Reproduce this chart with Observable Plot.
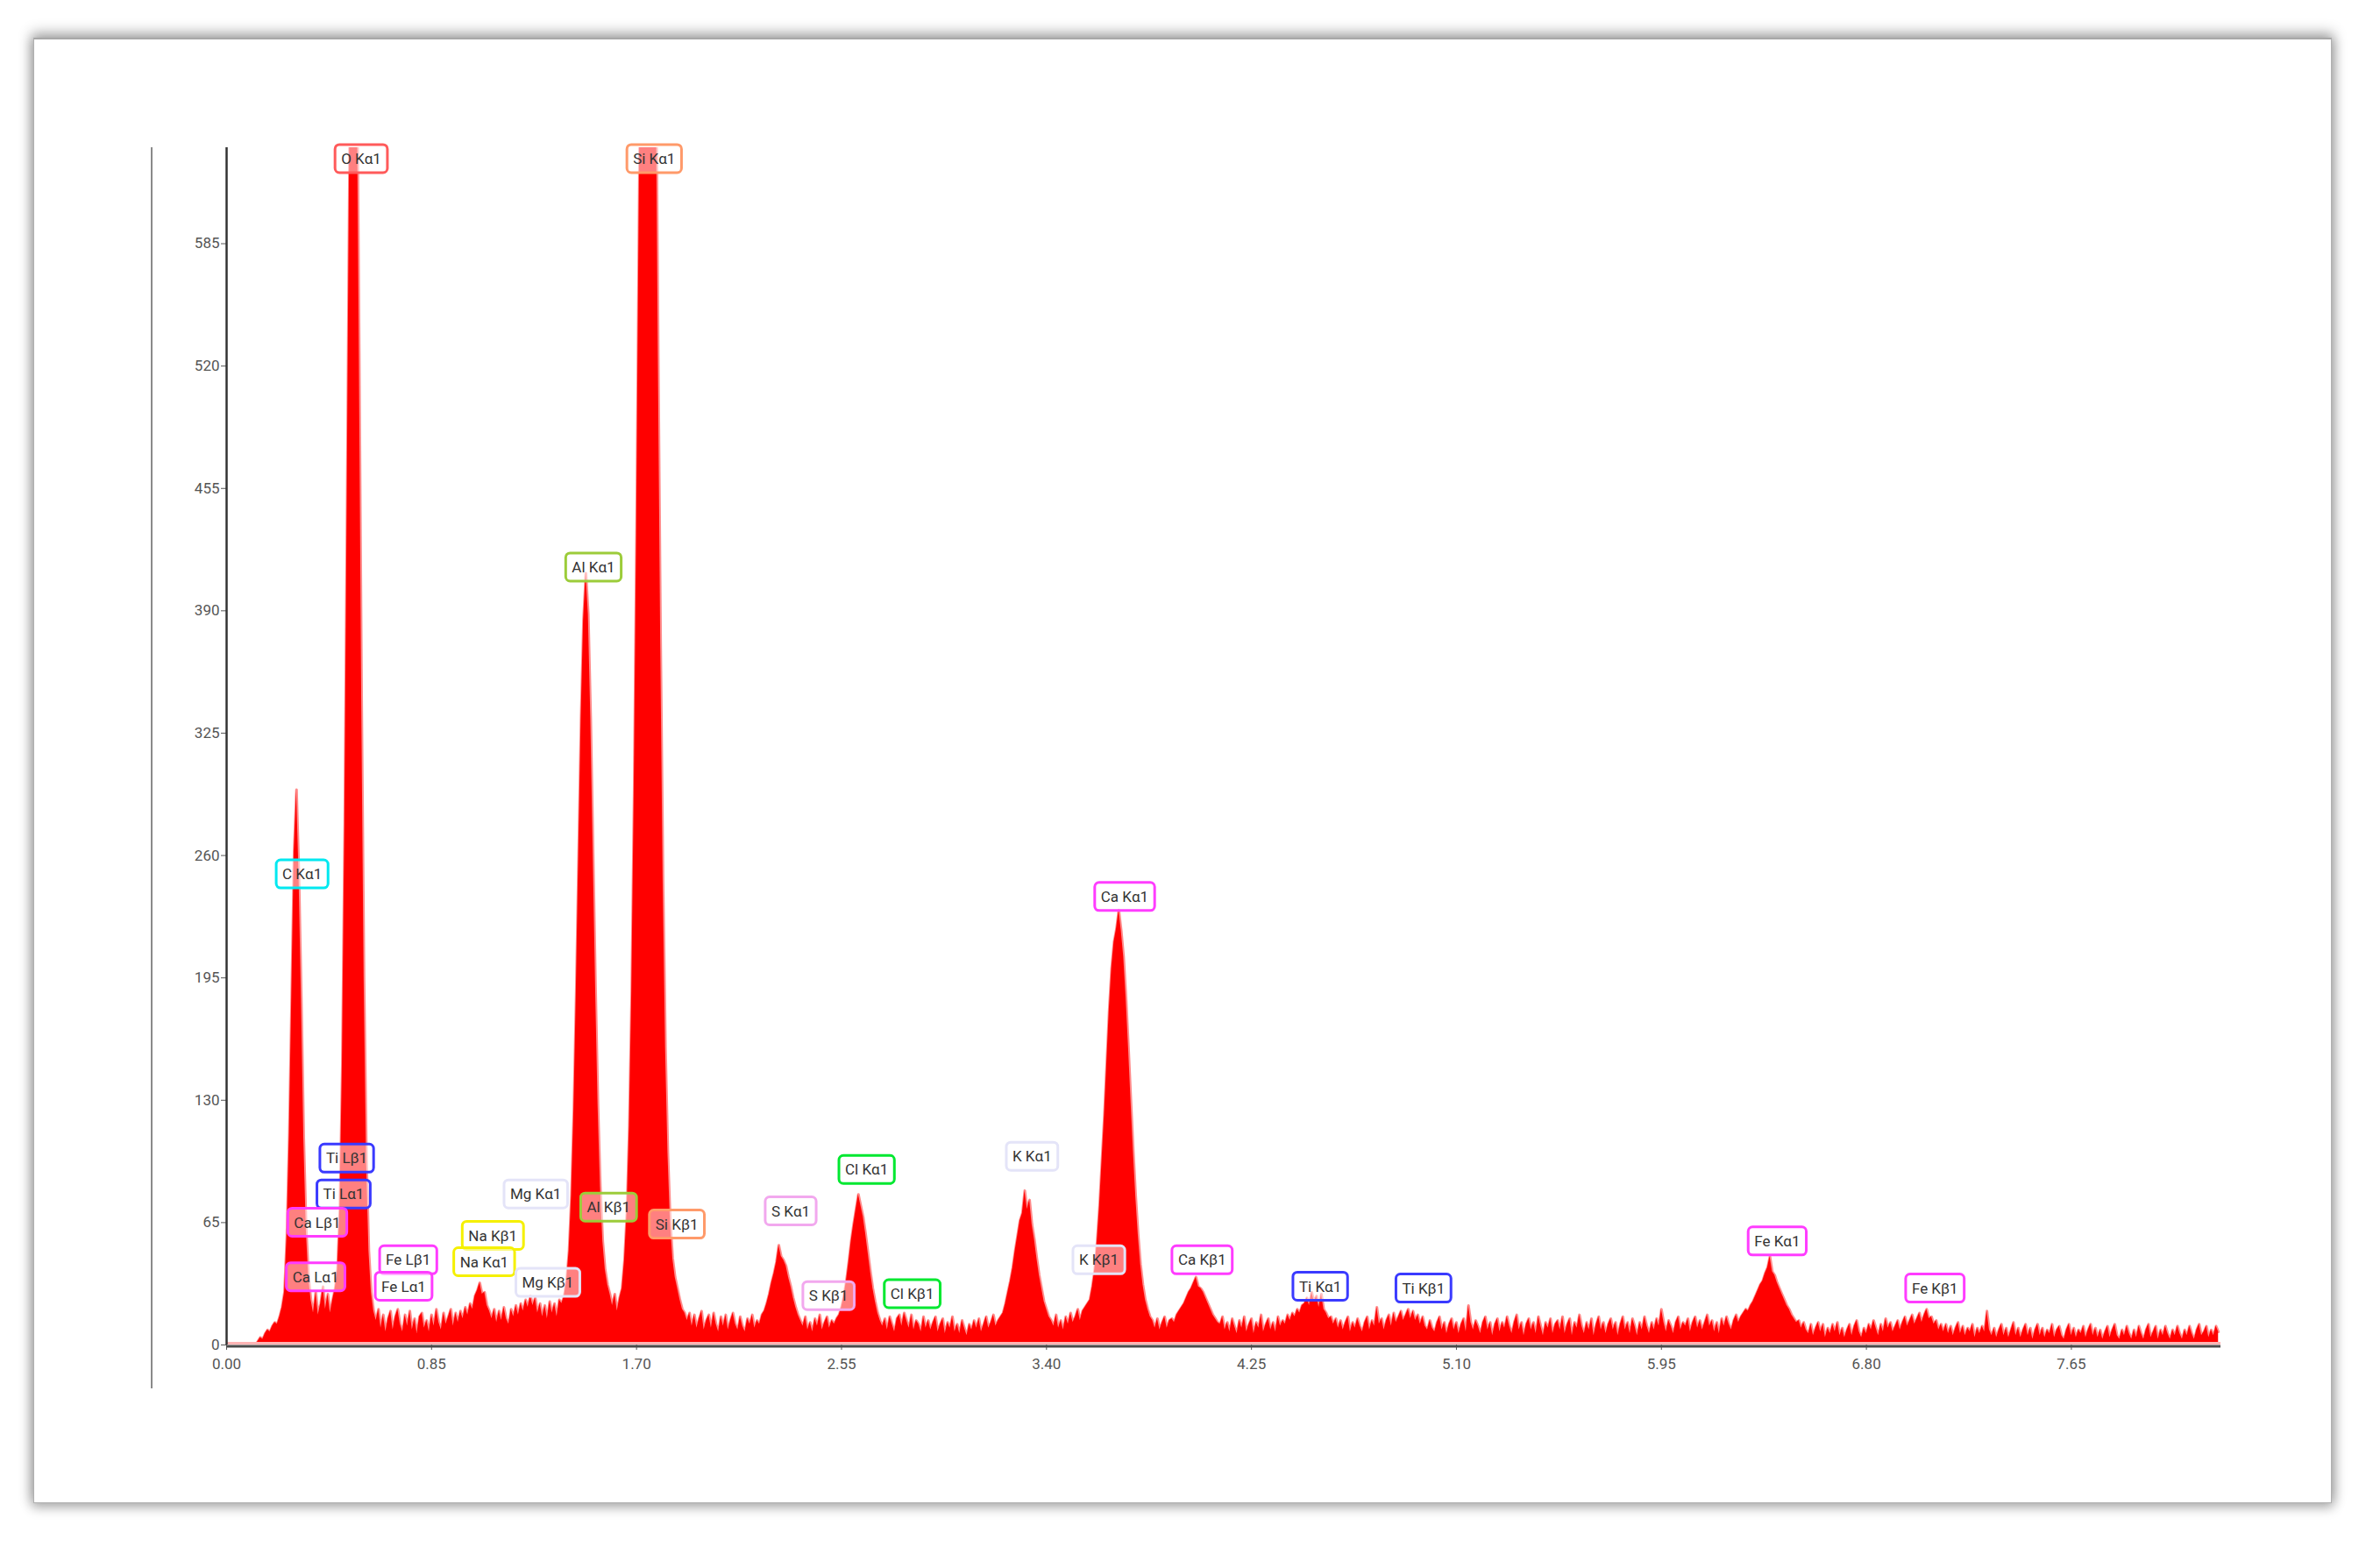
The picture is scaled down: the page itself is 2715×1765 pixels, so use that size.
<!DOCTYPE html>
<html><head><meta charset="utf-8">
<script src="https://cdn.jsdelivr.net/npm/d3@7"></script>
<script src="https://cdn.jsdelivr.net/npm/@observablehq/plot@0.6"></script>
<style>
html,body{margin:0;padding:0;background:#fff;}
body{width:2715px;height:1765px;position:relative;overflow:hidden;font-family:Roboto,"Noto Sans",sans-serif;}
#frame{position:absolute;left:38px;top:43px;width:2620px;height:1669px;border:1px solid #b0b0b0;border-top:2px solid #a8a8a8;box-shadow:0 -4px 14px 2px rgba(0,0,0,0.30),0 4px 12px 2px rgba(0,0,0,0.22);background:#fff;}
#leftline{position:absolute;left:172px;top:168px;width:2px;height:1416px;background:#8a8a8a;}
#chart{position:absolute;left:0;top:0;}
</style></head><body>
<div id="frame"></div>
<div id="leftline"></div>
<div id="chart"></div>
<script>
// Spectrum: counts per 0.01 keV channel, starting at 0.12 keV
const energyStart = 0.12;
const energyStep = 0.01;
const counts = [
  0, 2, 4, 3, 6, 8, 7, 10, 12, 11, 15, 20, 28, 58, 112, 186, 262, 295, 250, 184,
  110, 62, 36, 24, 17, 28, 16, 22, 31, 19, 27, 17, 24, 30, 40, 74, 150, 278, 452, 636,
  768, 792, 698, 528, 343, 195, 99, 50, 28, 18, 13, 19, 9, 16, 7, 14, 18, 8, 15, 19,
  11, 7, 16, 10, 18, 8, 14, 6, 15, 17, 9, 13, 7, 16, 10, 19, 12, 8, 17, 11,
  15, 19, 10, 17, 12, 18, 14, 20, 16, 22, 19, 26, 29, 33, 27, 28, 21, 18, 14, 19,
  12, 18, 13, 20, 14, 11, 19, 15, 21, 16, 22, 18, 24, 20, 26, 21, 25, 17, 22, 15,
  21, 14, 23, 17, 22, 15, 24, 22, 26, 34, 50, 79, 125, 188, 261, 333, 385, 410, 388, 333,
  261, 190, 128, 84, 55, 40, 32, 27, 21, 27, 18, 25, 30, 45, 70, 116, 188, 293, 431, 593,
  759, 902, 996, 1018, 966, 850, 694, 526, 372, 247, 158, 102, 66, 46, 36, 30, 24, 19, 17, 13,
  17, 10, 16, 9, 14, 18, 8, 13, 16, 9, 17, 11, 7, 15, 10, 16, 8, 13, 17, 11,
  8, 15, 10, 7, 14, 11, 16, 9, 13, 11, 16, 18, 22, 27, 33, 38, 44, 53, 47, 45,
  42, 36, 31, 25, 20, 16, 13, 10, 15, 8, 12, 7, 14, 10, 16, 8, 12, 15, 9, 13,
  11, 14, 16, 20, 26, 34, 44, 55, 64, 72, 80, 74, 68, 59, 49, 39, 30, 23, 17, 13,
  10, 14, 8, 15, 11, 7, 14, 16, 10, 17, 13, 9, 16, 8, 13, 11, 7, 15, 9, 13,
  8, 12, 15, 7, 11, 14, 6, 12, 9, 15, 7, 11, 6, 13, 9, 5, 11, 8, 13, 9,
  14, 7, 11, 15, 9, 12, 16, 10, 13, 15, 17, 22, 28, 34, 41, 50, 58, 66, 70, 82,
  72, 77, 64, 56, 46, 37, 30, 23, 19, 15, 13, 10, 16, 9, 13, 8, 15, 11, 17, 12,
  15, 19, 13, 18, 20, 22, 24, 31, 40, 55, 74, 98, 122, 150, 178, 200, 214, 221, 231, 220,
  206, 184, 158, 130, 103, 79, 59, 43, 32, 24, 19, 15, 13, 9, 14, 8, 12, 15, 9, 13,
  14, 12, 16, 18, 20, 22, 25, 28, 30, 33, 36, 31, 30, 28, 25, 22, 19, 16, 14, 12,
  11, 15, 8, 12, 7, 14, 10, 6, 13, 9, 15, 7, 11, 14, 6, 12, 9, 16, 7, 11,
  14, 8, 12, 7, 15, 10, 13, 11, 16, 13, 17, 15, 19, 17, 21, 22, 25, 21, 28, 23,
  26, 20, 27, 19, 17, 14, 15, 11, 14, 9, 13, 8, 12, 15, 7, 12, 9, 14, 10, 7,
  12, 15, 8, 13, 10, 20, 11, 14, 8, 13, 16, 10, 17, 12, 15, 18, 13, 16, 19, 14,
  18, 13, 16, 11, 15, 10, 8, 13, 9, 7, 12, 15, 8, 12, 6, 11, 14, 8, 12, 6,
  11, 14, 7, 21, 12, 8, 13, 10, 6, 12, 15, 8, 12, 5, 11, 14, 7, 12, 9, 15,
  10, 6, 12, 16, 8, 12, 5, 11, 14, 8, 12, 6, 15, 10, 5, 12, 9, 14, 6, 11,
  13, 8, 15, 6, 11, 14, 5, 12, 9, 16, 10, 6, 12, 8, 14, 5, 11, 15, 8, 12,
  6, 11, 14, 8, 12, 5, 11, 15, 8, 12, 6, 14, 10, 5, 12, 8, 15, 10, 6, 12,
  8, 14, 10, 19, 12, 7, 13, 10, 6, 12, 15, 8, 12, 10, 14, 7, 12, 15, 9, 13,
  8, 12, 16, 10, 13, 7, 12, 6, 14, 10, 15, 11, 8, 13, 16, 12, 15, 17, 19, 18,
  21, 23, 26, 29, 32, 34, 38, 41, 47, 39, 37, 33, 30, 27, 24, 21, 19, 16, 14, 12,
  13, 9, 12, 8, 6, 11, 5, 9, 12, 7, 11, 4, 9, 6, 11, 7, 12, 5, 9, 4,
  8, 11, 5, 10, 13, 7, 4, 9, 6, 11, 8, 13, 9, 5, 11, 7, 14, 9, 12, 7,
  10, 13, 8, 12, 15, 10, 13, 16, 11, 14, 17, 12, 16, 19, 14, 15, 11, 13, 8, 11,
  7, 11, 6, 10, 5, 9, 12, 6, 10, 5, 9, 7, 11, 4, 9, 6, 10, 7, 18, 8,
  5, 9, 4, 8, 11, 5, 9, 4, 8, 12, 5, 9, 4, 8, 11, 5, 9, 3, 8, 11,
  5, 9, 4, 8, 6, 11, 4, 8, 10, 5, 3, 8, 11, 5, 9, 4, 8, 6, 10, 4,
  8, 11, 5, 9, 4, 8, 3, 7, 10, 4, 8, 11, 5, 3, 8, 5, 10, 6, 3, 8,
  4, 10, 6, 3, 8, 11, 4, 7, 10, 3, 8, 5, 10, 6, 3, 8, 5, 10, 6, 3,
  8, 5, 10, 6, 3, 8, 11, 5, 7, 10, 4, 8, 5, 10, 7
];

const xTicks = [0, 0.85, 1.70, 2.55, 3.40, 4.25, 5.10, 5.95, 6.80, 7.65];
const yTicks = [0, 65, 130, 195, 260, 325, 390, 455, 520, 585];
const xMax = 8.27;
const yMax = 636;

// Peak labels: name, energy (keV) and counts of the box centre, border colour
const labelNames = ["O Kα1","Si Kα1","Al Kα1","C Kα1","Ca Kα1","Ti Lβ1","Ti Lα1","Ca Lβ1","Ca Lα1","Fe Lβ1","Fe Lα1","Na Kβ1","Na Kα1","Mg Kα1","Mg Kβ1","Al Kβ1","Si Kβ1","S Kα1","S Kβ1","Cl Kα1","Cl Kβ1","K Kα1","K Kβ1","Ca Kβ1","Ti Kα1","Ti Kβ1","Fe Kα1","Fe Kβ1"];
const labelEnergy = [0.56, 1.775, 1.523, 0.315, 3.726, 0.50, 0.487, 0.378, 0.371, 0.755, 0.736, 1.106, 1.070, 1.284, 1.334, 1.586, 1.869, 2.341, 2.498, 2.656, 2.845, 3.342, 3.619, 4.047, 4.537, 4.965, 6.432, 7.086];
const labelCounts = [630, 630, 413, 250, 238, 99, 80, 65, 36, 45, 31, 58, 44, 80, 33, 73, 64, 71, 26, 93, 27, 100, 45, 45, 31, 30, 55, 30];
const labelColors = ["#ff5a5a","#ff9a6a","#9ccc3a","#00e8f0","#ff3cff","#3a3aff","#3a3aff","#ff3cff","#ff3cff","#ff3cff","#ff3cff","#f5f000","#f5f000","#e4e4f8","#e4e4f8","#9ccc3a","#ff9a6a","#f2a8ee","#f2a8ee","#00e830","#00e830","#e4e4f8","#e4e4f8","#ff3cff","#3a3aff","#3a3aff","#ff3cff","#ff3cff"];

const spectrum = counts.map((c, i) => ({energy: Math.round((energyStart + i * energyStep) * 100) / 100, counts: c}));

const chart = Plot.plot({
  width: 2715,
  height: 1765,
  marginLeft: 258,
  marginRight: 182,
  marginTop: 168,
  marginBottom: 231,
  style: {background: "transparent", fontFamily: "Roboto, 'Noto Sans', sans-serif", fontSize: "17px", color: "#555"},
  x: {domain: [0, xMax], ticks: xTicks, tickFormat: d => d.toFixed(2), label: null, tickSize: 6, tickPadding: 9},
  y: {domain: [0, yMax], ticks: yTicks, label: null, tickSize: 6, tickPadding: 2},
  marks: [
    Plot.lineY(spectrum, {x: "energy", y: "counts", stroke: "#ff8c8c", strokeWidth: 3, clip: true}),
    Plot.areaY(spectrum, {x: "energy", y: "counts", fill: "#ff0000", clip: true}),
    Plot.ruleY([0], {stroke: "#ffb4b4", strokeWidth: 3, dy: -2}),
    Plot.ruleY([0], {stroke: "#4a4a4a", strokeWidth: 3, dy: 1.5}),
    Plot.ruleX([0], {stroke: "#333", strokeWidth: 2.5})
  ]
});
document.getElementById("chart").appendChild(chart);

const sxo = chart.scale("x"), syo = chart.scale("y");
const sx = sxo.apply ? v => sxo.apply(v) : d3.scaleLinear().domain(sxo.domain).range(sxo.range);
const sy = syo.apply ? v => syo.apply(v) : d3.scaleLinear().domain(syo.domain).range(syo.range);
const layer = d3.select(chart).append("g").attr("class", "peak-labels");
labelNames.forEach((name, i) => {
  const px = sx(labelEnergy[i]), py = sy(labelCounts[i]);
  const grp = layer.append("g");
  const rect = grp.append("rect");
  const t = grp.append("text")
    .attr("x", px).attr("y", py)
    .attr("text-anchor", "middle").attr("dy", "0.36em")
    .attr("font-size", 17).attr("fill", "#333")
    .attr("font-family", "Roboto, 'Noto Sans', sans-serif")
    .text(name);
  const bb = t.node().getBBox();
  rect.attr("x", bb.x - 7).attr("y", py - 16).attr("width", bb.width + 14).attr("height", 32)
    .attr("rx", 5).attr("fill", "#fff").attr("fill-opacity", 0.5)
    .attr("stroke", labelColors[i]).attr("stroke-width", 3);
});
</script>
</body></html>
